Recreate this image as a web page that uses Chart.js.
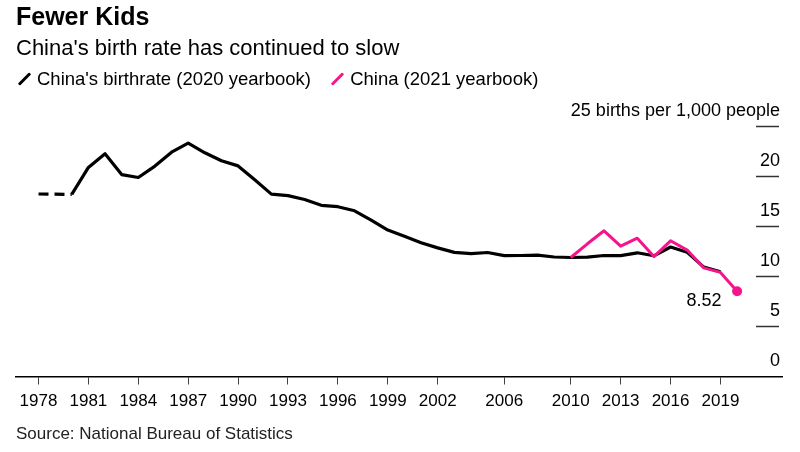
<!DOCTYPE html>
<html>
<head>
<meta charset="utf-8">
<script src="https://cdn.jsdelivr.net/npm/chart.js@4.4.1/dist/chart.umd.min.js"></script>
<style>
  body { margin: 0; width: 800px; height: 452px; background: #fff; position: relative; overflow: hidden;
         font-family: "Liberation Sans", Arial, sans-serif; color: #000; }
  #wrap { position: absolute; left: 0; top: 0; width: 800px; height: 452px; }
  .txt { position: absolute; white-space: nowrap; }
  #title { left: 16px; top: 2px; font-size: 25px; font-weight: bold; }
  #subtitle { left: 16px; top: 35px; font-size: 22px; }
  #legend { left: 18px; top: 68px; font-size: 18.5px; }
  #legend .item { display: inline-block; margin-right: 15px; }
  #legend .sw { display: inline-block; width: 3px; height: 16px; transform: rotate(45deg);
                margin: 0 11px -2px 5px; border-radius: 1px; }
  #source { left: 16px; top: 424px; font-size: 17px; color: #222; }
</style>
</head>
<body>
<div id="wrap"><canvas id="birthChart"></canvas></div>
<div class="txt" id="title">Fewer Kids</div>
<div class="txt" id="subtitle">China's birth rate has continued to slow</div>
<div class="txt" id="legend">
  <span class="item"><span class="sw" style="background:#000"></span>China's birthrate (2020 yearbook)</span>
  <span class="item"><span class="sw" style="background:#f5148c"></span>China (2021 yearbook)</span>
</div>
<div class="txt" id="source">Source: National Bureau of Statistics</div>

<script>
// ----- data -----
const years2020 = [1978, 1979, 1980, 1981, 1982, 1983, 1984, 1985, 1986, 1987, 1988, 1989, 1990,
                   1991, 1992, 1993, 1994, 1995, 1996, 1997, 1998, 1999, 2000, 2001, 2002, 2003,
                   2004, 2005, 2006, 2007, 2008, 2009, 2010, 2011, 2012, 2013, 2014, 2015, 2016,
                   2017, 2018, 2019];
// 1979 missing -> drawn as a dashed bridge
const birthRate2020 = [18.25, null, 18.21, 20.91, 22.28, 20.19, 19.90, 21.04, 22.43, 23.33, 22.37, 21.58, 21.06,
                       19.68, 18.24, 18.09, 17.70, 17.12, 16.98, 16.57, 15.64, 14.64, 14.03, 13.38, 12.86, 12.41,
                       12.29, 12.40, 12.09, 12.10, 12.14, 11.95, 11.90, 11.93, 12.10, 12.08, 12.37, 12.07, 12.95,
                       12.43, 10.94, 10.48];
const years2021 = [2010, 2011, 2012, 2013, 2014, 2015, 2016, 2017, 2018, 2019, 2020];
const birthRate2021 = [11.90, 13.27, 14.57, 13.03, 13.83, 11.99, 13.57, 12.64, 10.86, 10.41, 8.52];
const xTickYears = [1978, 1981, 1984, 1987, 1990, 1993, 1996, 1999, 2002, 2006, 2010, 2013, 2016, 2019];
const yTickValues = [0, 5, 10, 15, 20, 25];
const yUnit = "births per 1,000 people";

const PINK = "#f5148c";
const FONT = "'Liberation Sans', Arial, sans-serif";

// ----- right-hand value labels with short rules -----
const yAxisPlugin = {
  id: "yAxisLabels",
  afterDraw(chart) {
    const ctx = chart.ctx;
    const y = chart.scales.y;
    const right = chart.chartArea.right - 3;
    ctx.save();
    ctx.font = "18px " + FONT;
    ctx.fillStyle = "#000";
    ctx.textAlign = "right";
    ctx.textBaseline = "alphabetic";
    yTickValues.forEach(v => {
      const py = y.getPixelForValue(v);
      if (v > 0) {
        ctx.strokeStyle = "#333";
        ctx.lineWidth = 1.5;
        ctx.beginPath();
        ctx.moveTo(right - 23, py);
        ctx.lineTo(right, py);
        ctx.stroke();
      }
      const label = v === 25 ? v + " " + yUnit : String(v);
      ctx.fillText(label, right + 1, py - 10.5);
    });

    // end value label
    const meta = chart.getDatasetMeta(0);
    const last = meta.data[meta.data.length - 1];
    ctx.textAlign = "center";
    ctx.fillText(birthRate2021[birthRate2021.length - 1].toFixed(2), last.x - 33, last.y + 15);
    ctx.restore();
  }
};

const pts2020 = years2020.map((yr, i) => ({ x: yr, y: birthRate2020[i] }));
const pts2021 = years2021.map((yr, i) => ({ x: yr, y: birthRate2021[i] }));

new Chart(document.getElementById("birthChart"), {
  type: "line",
  data: {
    datasets: [
      {
        label: "China (2021 yearbook)",
        data: pts2021,
        borderColor: PINK,
        backgroundColor: PINK,
        borderWidth: 3,
        pointRadius: pts2021.map((p, i) => i === pts2021.length - 1 ? 5 : 0),
        pointBorderWidth: 0,
        borderJoinStyle: "round",
        tension: 0,
        order: 0
      },
      {
        label: "China's birthrate (2020 yearbook)",
        data: pts2020,
        borderColor: "#000",
        borderWidth: 3.2,
        pointRadius: 0,
        borderJoinStyle: "round",
        spanGaps: true,
        segment: {
          // dashed where the segment bridges a missing year
          borderDash: c => (birthRate2020[c.p1DataIndex - 1] === null ? [10, 6] : undefined)
        },
        tension: 0,
        order: 1
      }
    ]
  },
  options: {
    responsive: true,
    maintainAspectRatio: false,
    animation: false,
    devicePixelRatio: 1,
    layout: { padding: { left: 16, right: 18, top: 126.5, bottom: 35.5 } },
    plugins: { legend: { display: false }, tooltip: { enabled: false } },
    scales: {
      x: {
        type: "linear",
        min: 1976.647,
        max: 2022.70,
        afterBuildTicks: s => { s.ticks = xTickYears.map(v => ({ value: v })); },
        afterFit: s => { s.height = 40; },
        grid: { drawOnChartArea: false, drawTicks: true, tickLength: 8, color: "#444", lineWidth: 1 },
        border: { display: true, color: "#000", width: 1.5 },
        ticks: {
          font: { family: FONT, size: 17 },
          color: "#000",
          padding: 7,
          maxRotation: 0,
          autoSkip: false,
          callback: v => String(v)
        }
      },
      y: {
        display: false,
        min: 0,
        max: 25
      }
    }
  },
  plugins: [yAxisPlugin]
});
</script>
</body>
</html>
